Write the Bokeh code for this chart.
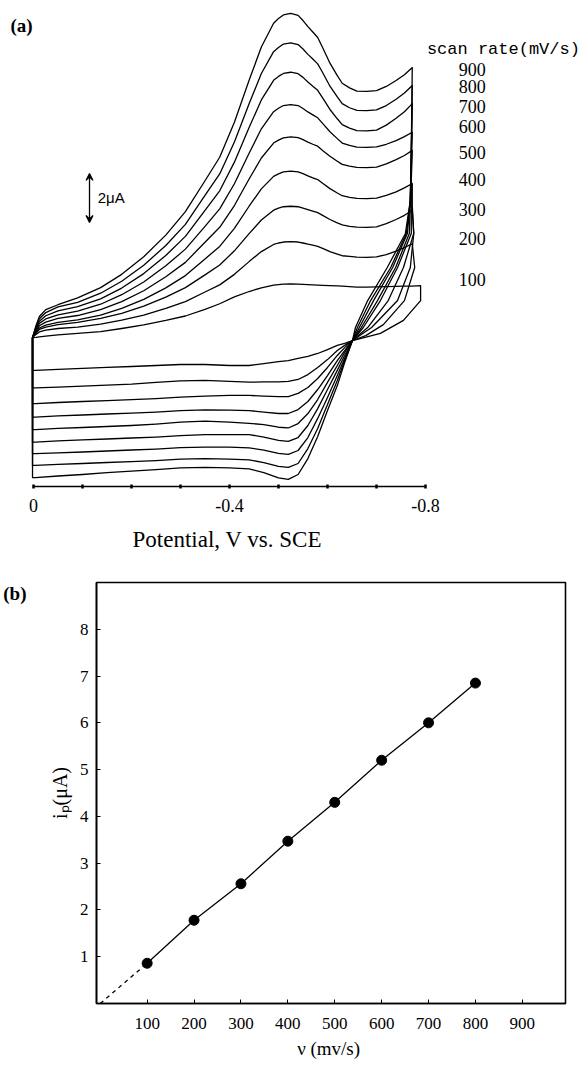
from bokeh.plotting import figure
from bokeh.models import (Range1d, FixedTicker, Label, Arrow, VeeHead, ColumnDataSource,
                          Title, LinearAxis)
from bokeh.embed import file_html
from bokeh.resources import INLINE
from bokeh.core.properties import value

# ---------------- panel (a): cyclic voltammograms (E in V vs SCE, i in uA) -------------
rates = [100, 200, 300, 400, 500, 600, 700, 800, 900]

# forward (cathodic) sweep potentials
E_fwd = [0.002, -0.005, -0.012, -0.025, -0.05, -0.09, -0.137, -0.18, -0.225, -0.27,
         -0.31, -0.35, -0.38, -0.41, -0.44, -0.465, -0.49, -0.50, -0.51, -0.525,
         -0.54, -0.55, -0.56, -0.57, -0.58, -0.59, -0.605, -0.62, -0.63, -0.645,
         -0.66, -0.68, -0.70, -0.72, -0.74, -0.757, -0.773]
fwd_900 = [0.12, 0.60, 0.98, 1.26, 1.46, 1.74, 2.16, 2.70, 3.42, 4.30, 5.26, 6.52, 7.48, 8.91,
           10.62, 11.98, 12.95, 13.14, 13.29, 13.35, 13.27, 13.06, 12.81, 12.59, 12.37, 11.96,
           11.32, 10.81, 10.50, 10.31, 10.18, 10.17, 10.20, 10.37, 10.61, 10.85, 11.14]
fwd_800 = [0.12, 0.55, 0.89, 1.14, 1.37, 1.56, 1.93, 2.42, 3.07, 3.88, 4.74, 5.92, 6.80, 8.10,
           9.66, 10.90, 11.79, 11.96, 12.10, 12.15, 12.08, 11.90, 11.68, 11.49, 11.29, 10.94,
           10.38, 9.94, 9.67, 9.50, 9.39, 9.38, 9.41, 9.59, 9.85, 10.10, 10.41]
fwd_700 = [0.12, 0.49, 0.79, 1.01, 1.21, 1.38, 1.70, 2.14, 2.73, 3.47, 4.25, 5.31, 6.11, 7.28,
           8.69, 9.82, 10.62, 10.78, 10.90, 10.95, 10.89, 10.74, 10.55, 10.38, 10.21, 9.90,
           9.43, 9.05, 8.81, 8.67, 8.57, 8.56, 8.59, 8.79, 9.07, 9.34, 9.67]
fwd_600 = [0.12, 0.44, 0.70, 0.88, 1.05, 1.20, 1.48, 1.87, 2.39, 3.05, 3.73, 4.66, 5.37, 6.40,
           7.64, 8.64, 9.34, 9.48, 9.59, 9.63, 9.59, 9.47, 9.33, 9.21, 9.09, 8.86,
           8.52, 8.24, 8.06, 7.96, 7.89, 7.88, 7.90, 8.01, 8.16, 8.32, 8.50]
fwd_500 = [0.12, 0.39, 0.60, 0.75, 0.90, 1.02, 1.26, 1.59, 2.03, 2.60, 3.19, 4.01, 4.62, 5.51,
           6.59, 7.45, 8.06, 8.18, 8.27, 8.31, 8.28, 8.20, 8.10, 8.01, 7.93, 7.76,
           7.52, 7.32, 7.19, 7.12, 7.07, 7.06, 7.08, 7.21, 7.38, 7.55, 7.76]
fwd_400 = [0.12, 0.33, 0.51, 0.63, 0.74, 0.84, 1.04, 1.31, 1.68, 2.15, 2.65, 3.33, 3.84, 4.58,
           5.48, 6.19, 6.70, 6.80, 6.88, 6.91, 6.88, 6.81, 6.72, 6.64, 6.57, 6.42,
           6.20, 6.02, 5.91, 5.84, 5.80, 5.79, 5.81, 5.92, 6.07, 6.23, 6.41]
fwd_300 = [0.12, 0.30, 0.45, 0.55, 0.65, 0.74, 0.90, 1.11, 1.40, 1.77, 2.16, 2.68, 3.08, 3.66,
           4.36, 4.92, 5.32, 5.40, 5.46, 5.48, 5.46, 5.40, 5.34, 5.28, 5.22, 5.11,
           4.94, 4.80, 4.72, 4.66, 4.63, 4.62, 4.64, 4.77, 4.94, 5.11, 5.31]
fwd_200 = [0.12, 0.25, 0.35, 0.42, 0.49, 0.55, 0.67, 0.83, 1.04, 1.31, 1.59, 1.98, 2.27, 2.70,
           3.22, 3.63, 3.92, 3.98, 4.02, 4.04, 4.02, 3.98, 3.93, 3.89, 3.84, 3.76,
           3.63, 3.53, 3.46, 3.43, 3.40, 3.39, 3.41, 3.51, 3.65, 3.79, 3.95]
fwd_100 = [0.12, 0.13, 0.15, 0.18, 0.23, 0.29, 0.36, 0.49, 0.64, 0.82, 1.00, 1.27, 1.50, 1.78,
           2.00, 2.15, 2.26, 2.28, 2.30, 2.31, 2.30, 2.29, 2.28, 2.27, 2.26, 2.25,
           2.24, 2.23, 2.22, 2.20, 2.18, 2.18, 2.19, 2.20, 2.21, 2.22, 2.22]

# return sweep just after the switching potential, down to the crossing point
turn_E_900 = [-0.771, -0.769, -0.759, -0.722, -0.682, -0.657]
turn_I_900 = [7.76, 5.71, 4.37, 2.98, 1.63, 0.53]
turn_E_800 = [-0.771, -0.769, -0.761, -0.729, -0.688, -0.661]
turn_I_800 = [7.76, 5.71, 4.37, 2.98, 1.63, 0.53]
turn_E_700 = [-0.771, -0.769, -0.763, -0.733, -0.694, -0.665]
turn_I_700 = [7.76, 5.71, 4.37, 2.98, 1.63, 0.53]
turn_E_600 = [-0.771, -0.769, -0.767, -0.739, -0.702, -0.669]
turn_I_600 = [6.94, 5.71, 4.37, 2.98, 1.63, 0.53]
turn_E_500 = [-0.771, -0.771, -0.771, -0.743, -0.708, -0.673]
turn_I_500 = [6.53, 5.51, 4.37, 2.98, 1.63, 0.53]
turn_E_400 = [-0.773, -0.776, -0.755, -0.724, -0.682]
turn_I_400 = [5.51, 4.37, 2.98, 1.63, 0.53]
turn_E_300 = [-0.776, -0.769, -0.743, -0.690]
turn_I_300 = [4.37, 2.98, 1.63, 0.53]
turn_E_200 = [-0.778, -0.757, -0.714, -0.678]
turn_I_200 = [2.98, 1.63, 0.65, 0.20]
turn_E_100 = [-0.790, -0.790, -0.755, -0.708]
turn_I_100 = [2.24, 1.63, 0.82, 0.29]

# return (anodic) sweep from the crossing point back to 0 V
E_low = [-0.651, -0.635, -0.62, -0.60, -0.58, -0.56, -0.54, -0.52, -0.50, -0.47,
         -0.44, -0.40, -0.35, -0.30, -0.25, -0.20, -0.15, -0.10, -0.05, -0.004]
low_900 = [0, -0.90, -1.84, -2.86, -3.92, -4.82, -5.47, -5.67, -5.61, -5.39,
           -5.24, -5.20, -5.18, -5.20, -5.27, -5.33, -5.39, -5.47, -5.53, -5.60]
low_800 = [0, -0.82, -1.63, -2.61, -3.59, -4.41, -5.02, -5.18, -5.14, -4.98,
           -4.87, -4.84, -4.82, -4.84, -4.90, -4.94, -4.98, -5.02, -5.06, -5.10]
low_700 = [0, -0.73, -1.43, -2.33, -3.18, -3.96, -4.49, -4.65, -4.61, -4.47,
           -4.38, -4.35, -4.35, -4.37, -4.43, -4.47, -4.51, -4.55, -4.59, -4.62]
low_600 = [0, -0.61, -1.22, -2.00, -2.78, -3.47, -3.96, -4.12, -4.08, -3.94,
           -3.84, -3.84, -3.84, -3.88, -3.94, -3.98, -4.02, -4.06, -4.10, -4.15]
low_500 = [0, -0.49, -1.02, -1.71, -2.41, -2.98, -3.39, -3.57, -3.54, -3.43,
           -3.38, -3.33, -3.29, -3.33, -3.41, -3.47, -3.51, -3.55, -3.59, -3.64]
low_400 = [0, -0.41, -0.82, -1.43, -2.00, -2.49, -2.82, -2.98, -2.98, -2.92,
           -2.86, -2.84, -2.83, -2.86, -2.92, -2.96, -3.00, -3.04, -3.08, -3.13]
low_300 = [0, -0.29, -0.61, -1.10, -1.55, -1.92, -2.16, -2.29, -2.29, -2.27,
           -2.24, -2.24, -2.27, -2.31, -2.37, -2.41, -2.45, -2.49, -2.53, -2.58]
low_200 = [0, -0.20, -0.41, -0.78, -1.10, -1.39, -1.59, -1.67, -1.69, -1.69,
           -1.70, -1.67, -1.63, -1.65, -1.71, -1.78, -1.82, -1.86, -1.90, -1.93]
low_100 = [0, -0.12, -0.20, -0.37, -0.53, -0.65, -0.73, -0.82, -0.86, -0.94,
           -1.02, -1.02, -0.98, -0.98, -1.02, -1.06, -1.10, -1.14, -1.18, -1.22]

fwd = {100: fwd_100, 200: fwd_200, 300: fwd_300, 400: fwd_400, 500: fwd_500,
       600: fwd_600, 700: fwd_700, 800: fwd_800, 900: fwd_900}
turn_E = {100: turn_E_100, 200: turn_E_200, 300: turn_E_300, 400: turn_E_400, 500: turn_E_500,
          600: turn_E_600, 700: turn_E_700, 800: turn_E_800, 900: turn_E_900}
turn_I = {100: turn_I_100, 200: turn_I_200, 300: turn_I_300, 400: turn_I_400, 500: turn_I_500,
          600: turn_I_600, 700: turn_I_700, 800: turn_I_800, 900: turn_I_900}
low = {100: low_100, 200: low_200, 300: low_300, 400: low_400, 500: low_500,
       600: low_600, 700: low_700, 800: low_800, 900: low_900}

x_ticks = [0, -0.1, -0.2, -0.3, -0.4, -0.5, -0.6, -0.7, -0.8]
x_tick_labels = {0: "0", -0.4: "-0.4", -0.8: "-0.8"}
scale_bar_uA = 2.0

# rate labels at the right (vertical positions next to each curve end)
rate_label_I = [2.48, 4.16, 5.35, 6.57, 7.69, 8.73, 9.55, 10.37, 11.06]

# ---------------- panel (b): peak current vs scan rate -------------
nu = [100, 200, 300, 400, 500, 600, 700, 800]
ip = [0.86, 1.78, 2.56, 3.47, 4.30, 5.20, 6.00, 6.85]
nu_ticks = [100, 200, 300, 400, 500, 600, 700, 800, 900]
ip_ticks = [1, 2, 3, 4, 5, 6, 7, 8]

SERIF = "Liberation Serif"

for r in rates:
    assert len(fwd[r]) == len(E_fwd) and len(low[r]) == len(E_low)
    assert len(turn_E[r]) == len(turn_I[r])

# ---------------- build (a) ----------------
pa = figure(width=584, height=570, output_backend="svg", toolbar_location=None,
            x_range=Range1d(0.06735, -1.12449), y_range=Range1d(-5.959, 13.878),
            y_axis_location=None, min_border_left=0, min_border_right=0,
            min_border_top=0, min_border_bottom=84)
pa.outline_line_color = None
pa.grid.visible = False
pa.background_fill_color = "white"

for r in rates:
    E = E_fwd + turn_E[r] + E_low + [E_fwd[0], E_fwd[0]]
    I = fwd[r] + turn_I[r] + low[r] + [low[r][-1], fwd[r][0]]
    pa.line(E, I, line_color="black", line_width=1.3, line_join="round")

ax = pa.xaxis[0]
ax.ticker = FixedTicker(ticks=x_ticks)
ax.major_label_overrides = {t: x_tick_labels.get(t, "") for t in x_ticks}
ax.bounds = (-0.8, 0)
ax.axis_line_width = 1.6
ax.major_tick_in = 2
ax.major_tick_out = 2
ax.major_tick_line_width = 2.5
ax.minor_tick_line_color = None
ax.major_label_standoff = 10
ax.major_label_text_font = SERIF
ax.major_label_text_font_size = "18px"
ax.major_label_text_color = "black"

pa.add_layout(Title(text="Potential, V vs. SCE", align="left", offset=132, standoff=20,
                    text_font=SERIF, text_font_size="23px", text_font_style="normal",
                    text_color="black"), "below")

# rate labels
src = ColumnDataSource(dict(x=[-0.8953] * len(rates), y=rate_label_I, t=[str(r) for r in rates]))
pa.text(x="x", y="y", text="t", source=src, text_align="center", text_baseline="middle",
        text_font=value(SERIF), text_font_size=value("18px"), text_color="black")
pa.add_layout(Label(x=-0.959, y=11.88, text="scan rate(mV/s)", text_align="center",
                    text_baseline="middle", text_font="Liberation Mono",
                    text_font_size="17px", text_color="black"))
pa.add_layout(Label(x=0.047, y=12.86, text="(a)", text_align="left", text_baseline="middle",
                    text_font=SERIF, text_font_size="19px", text_font_style="bold",
                    text_color="black"))

# 2 uA scale bar
bar_E = -0.1143
bar_low = 4.82
pa.add_layout(Arrow(start=VeeHead(size=7, line_width=1.2, fill_color="black"),
                    end=VeeHead(size=7, line_width=1.2, fill_color="black"),
                    x_start=bar_E, y_start=bar_low, x_end=bar_E, y_end=bar_low + scale_bar_uA,
                    line_width=1.3, line_color="black"))
pa.add_layout(Label(x=-0.131, y=bar_low + scale_bar_uA / 2, text="2μA", text_align="left",
                    text_baseline="middle", text_font="Liberation Sans",
                    text_font_size="15px", text_color="black"))

# ---------------- build (b) ----------------
pb = figure(width=584, height=496, output_backend="svg", toolbar_location=None,
            x_range=Range1d(-8, 992), y_range=Range1d(0, 9.0),
            min_border_left=93, min_border_right=19, min_border_top=12, min_border_bottom=63)
pb.grid.visible = False
pb.outline_line_color = "black"
pb.outline_line_width = 1.6
pb.outline_line_alpha = 1.0

pb.line([0, nu[0]], [0, ip[0]], line_color="black", line_width=1.3, line_dash="4 4")
pb.line(nu, ip, line_color="black", line_width=1.3)
pb.scatter(nu, ip, size=10, marker="circle", fill_color="black", line_color="black")

for axis in (pb.xaxis[0], pb.yaxis[0]):
    axis.axis_line_width = 1.6
    axis.major_tick_in = 4
    axis.major_tick_out = 0
    axis.minor_tick_line_color = None
    axis.major_label_text_font = SERIF
    axis.major_label_text_font_size = "17px"
    axis.major_label_text_color = "black"
    axis.axis_label_text_font = SERIF
    axis.axis_label_text_font_style = "normal"
    axis.axis_label_text_color = "black"

pb.xaxis[0].ticker = FixedTicker(ticks=nu_ticks)
pb.xaxis[0].major_label_standoff = 14
pb.xaxis[0].axis_label = "ν  (mv/s)"
pb.xaxis[0].axis_label_text_font_size = "19px"
pb.xaxis[0].axis_label_standoff = 6

pb.yaxis[0].ticker = FixedTicker(ticks=ip_ticks)
pb.yaxis[0].major_label_standoff = 8
pb.yaxis[0].axis_label = "iₚ(μA)"
pb.yaxis[0].axis_label_text_font_size = "20px"
pb.yaxis[0].axis_label_standoff = 6

# panel tag "(b)" placed in the left margin, beside the top of the frame
tag_y = 8.76
tag_axis = LinearAxis(ticker=FixedTicker(ticks=[tag_y]), major_label_overrides={tag_y: "(b)"},
                      axis_line_color=None, major_tick_line_color=None,
                      minor_tick_line_color=None, major_label_standoff=13,
                      major_label_text_font=SERIF, major_label_text_font_size="19px",
                      major_label_text_font_style="bold", major_label_text_color="black")
pb.add_layout(tag_axis, "left")

open("out.html", "w").write(file_html([pa, pb], INLINE))
